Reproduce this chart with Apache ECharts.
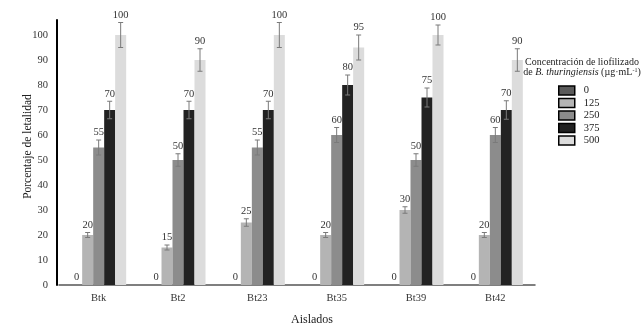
<!DOCTYPE html>
<html>
<head>
<meta charset="utf-8">
<script src="https://cdn.jsdelivr.net/npm/echarts@6/dist/echarts.min.js"></script>
<style>
  html, body { margin: 0; padding: 0; background: #fff; }
  #chart { width: 644px; height: 328px; }
</style>
</head>
<body>
<div id="chart"></div>
<script>
  // aislados
  var categories = ['Btk', 'Bt2', 'Bt23', 'Bt35', 'Bt39', 'Bt42'];
  // concentraciones (µg·mL-1)
  var concentrations = ['0', '125', '250', '375', '500'];

  var v0 = [0, 0, 0, 0, 0, 0];
  var v125 = [20, 15, 25, 20, 30, 20];
  var v250 = [55, 50, 55, 60, 50, 60];
  var v375 = [70, 70, 70, 80, 75, 70];
  var v500 = [100, 90, 100, 95, 100, 90];

  // desviaciones (barras de error)
  var e0 = [0, 0, 0, 0, 0, 0];
  var e125 = [1, 1, 1.5, 1, 1.3, 1];
  var e250 = [3, 2.5, 3, 3, 2.5, 3];
  var e375 = [3.5, 3.5, 3.5, 4, 3.8, 3.7];
  var e500 = [5, 4.5, 5, 5, 4, 4.5];

  var yTicks = [0, 10, 20, 30, 40, 50, 60, 70, 80, 90, 100];

  var values = [v0, v125, v250, v375, v500];
  var errors = [e0, e125, e250, e375, e500];
  var colors = ['#5a5a5a', '#b4b4b4', '#8c8c8c', '#222222', '#dcdcdc'];

  var serif = '"Liberation Serif", "DejaVu Serif", serif';
  var barW = 11;

  var chart = echarts.init(document.getElementById('chart'));

  var series = [];
  concentrations.forEach(function (name, i) {
    series.push({
      name: name,
      type: 'bar',
      barWidth: barW,
      barGap: '0%',
      itemStyle: { color: colors[i], borderColor: '#000', borderWidth: 0 },
      data: values[i],
      z: 2
    });
  });

  // barras de error + etiquetas
  concentrations.forEach(function (name, i) {
    series.push({
      type: 'custom',
      name: 'err' + name,
      z: 5,
      data: categories.map(function (c, k) { return [k, values[i][k], errors[i][k]]; }),
      renderItem: function (params, api) {
        var off = (i - 2) * barW;
        var top = api.coord([api.value(0), api.value(1) + api.value(2)]);
        var bot = api.coord([api.value(0), api.value(1) - api.value(2)]);
        var x = top[0] + off;
        var children = [];
        if (api.value(2) > 0) {
          var st = { stroke: '#7a7a7a', lineWidth: 1 };
          children.push(
            { type: 'line', shape: { x1: x, y1: top[1], x2: x, y2: bot[1] }, style: st },
            { type: 'line', shape: { x1: x - 2.5, y1: top[1], x2: x + 2.5, y2: top[1] }, style: st },
            { type: 'line', shape: { x1: x - 2.5, y1: bot[1], x2: x + 2.5, y2: bot[1] }, style: st }
          );
        }
        children.push({
          type: 'text',
          style: {
            x: x, y: top[1] - 2,
            text: String(api.value(1)),
            align: 'center', verticalAlign: 'bottom',
            font: '10.5px ' + serif, fill: '#333'
          }
        });
        return { type: 'group', children: children };
      }
    });
  });

  chart.setOption({
    animation: false,
    graphic: [{
      type: 'text',
      x: 582,
      y: 57,
      style: {
        text: '{n|Concentración de liofilizado}\n{n|de }{i|B. thuringiensis}{n| (µg·mL}{s|-1}{n|)}',
        align: 'center',
        rich: {
          n: { fontFamily: serif, fontSize: 10, fill: '#222', lineHeight: 10.5 },
          i: { fontFamily: serif, fontSize: 10, fontStyle: 'italic', fill: '#222', lineHeight: 10.5 },
          s: { fontFamily: serif, fontSize: 6, fill: '#222', verticalAlign: 'top', lineHeight: 10.5 }
        }
      }
    }],
    legend: {
      orient: 'vertical',
      left: 558,
      top: 85,
      padding: 0,
      icon: 'rect',
      itemWidth: 16,
      itemHeight: 9,
      itemGap: 1.5,
      data: concentrations,
      textStyle: { fontFamily: serif, fontSize: 10.5, color: '#222', lineHeight: 10, padding: [0, 0, 0, 4] },
      itemStyle: { borderColor: '#000', borderWidth: 1.5 }
    },
    grid: { left: 59, right: 109, top: 20, bottom: 43, outerBoundsMode: 'none' },
    xAxis: {
      type: 'category',
      data: categories,
      name: 'Aislados',
      nameLocation: 'middle',
      nameGap: 29,
      nameTextStyle: { fontFamily: serif, fontSize: 12, color: '#222', padding: [0, 0, 0, 30] },
      axisLine: { lineStyle: { color: '#555', width: 1.5 } },
      axisTick: { show: false },
      axisLabel: { fontFamily: serif, fontSize: 10.5, color: '#333', margin: 8 }
    },
    yAxis: {
      type: 'value',
      min: 0,
      max: 106,
      interval: 10,
      offset: 2,
      name: 'Porcentaje de letalidad',
      nameLocation: 'middle',
      nameGap: 23,
      nameMoveOverlap: false,
      nameTextStyle: { fontFamily: serif, fontSize: 11.5, color: '#222', padding: [0, 0, 0, 12] },
      axisLine: { show: true, lineStyle: { color: '#000', width: 2 } },
      axisTick: { show: false },
      splitLine: { show: false },
      axisLabel: {
        fontFamily: serif, fontSize: 10.5, color: '#333', margin: 9,
        formatter: function (v) { return yTicks.indexOf(v) >= 0 ? String(v) : ''; }
      }
    },
    series: series
  });
</script>
</body>
</html>
